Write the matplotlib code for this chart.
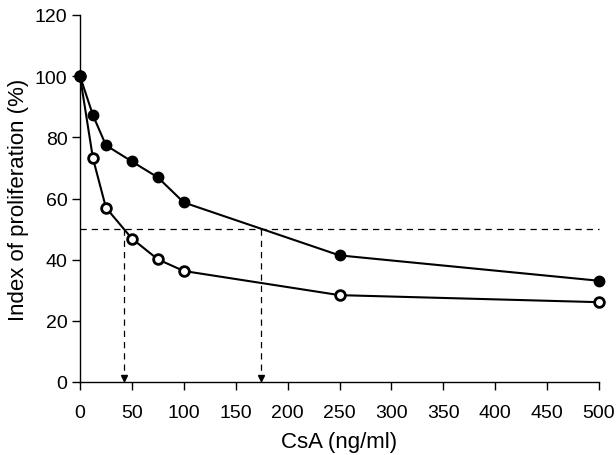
import matplotlib.pyplot as plt

plt.rcParams['font.family'] = ['Liberation Sans', 'DejaVu Sans']

dose_filled = [0, 12.5, 25, 50, 75, 100, 250, 500]
prolif_filled = [100, 87.2, 77.4, 72.1, 66.9, 58.7, 41.4, 33.1]

dose_open = [0, 12.5, 25, 50, 75, 100, 250, 500]
prolif_open = [100, 73.1, 57.0, 46.9, 40.1, 36.3, 28.4, 26.1]

ic50_x = [42, 174]
half_level = 50

fig = plt.figure(figsize=(6.16, 4.56), dpi=100)
ax = fig.add_axes([80 / 616, 73 / 456, 519 / 616, 367 / 456])

# reference lines for 50% inhibition
ax.plot([0, 500], [half_level, half_level], color='black', lw=0.9,
        dashes=(5, 4), clip_on=False)
for xv in ic50_x:
    ax.plot([xv, xv], [half_level, 0], color='black', lw=0.9, dashes=(5, 4))
    ax.plot(xv, 1.2, marker='v', color='black', ms=5, clip_on=False)

ax.plot(dose_open, prolif_open, color='black', lw=1.5, marker='o', ms=7,
        mfc='white', mec='black', mew=2, clip_on=False, zorder=3)
ax.plot(dose_filled, prolif_filled, color='black', lw=1.5, marker='o', ms=7.5,
        mfc='black', mec='black', clip_on=False, zorder=4)

ax.set_xlim(0, 500)
ax.set_ylim(0, 120)
ax.set_xticks(range(0, 501, 50))
ax.set_yticks(range(0, 121, 20))
for s in ['top', 'right']:
    ax.spines[s].set_visible(False)
for s in ['left', 'bottom']:
    ax.spines[s].set_linewidth(1.0)
ax.tick_params(direction='out', length=6, width=1, labelsize=14, pad=3)
ax.tick_params(axis='x', pad=10)

ax.set_xlabel('CsA (ng/ml)', fontsize=16, labelpad=7)
ax.set_ylabel('Index of proliferation (%)', fontsize=16, labelpad=4)

fig.savefig('out.png', dpi=100)
